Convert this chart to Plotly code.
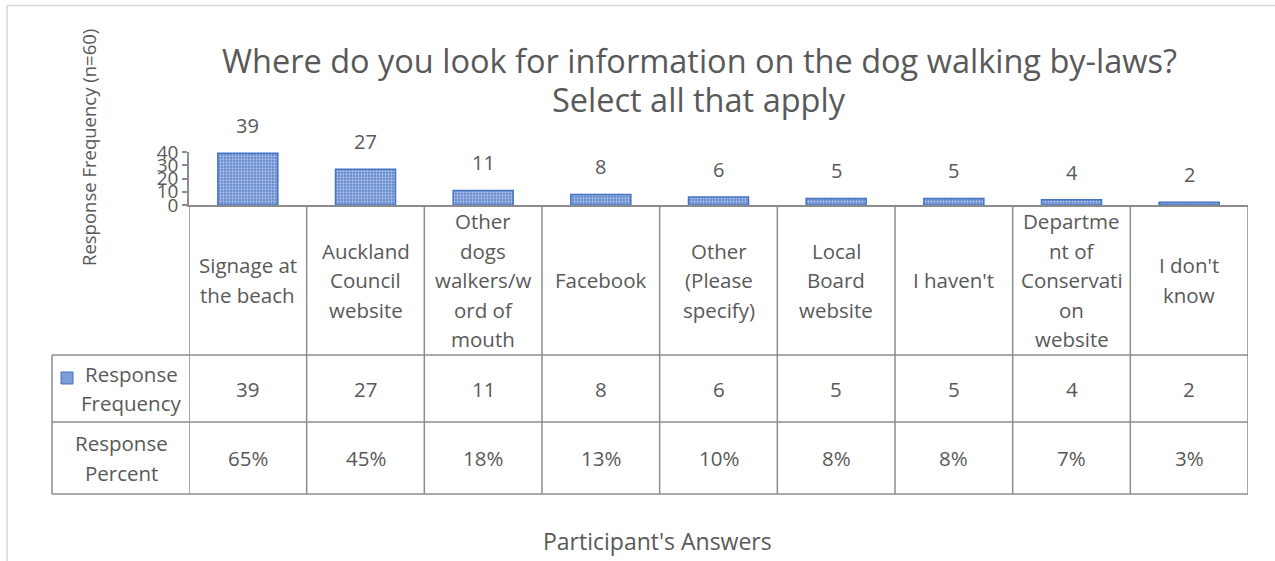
import plotly.graph_objects as go

# Survey results
categories = ["Signage at the beach", "Auckland Council website",
              "Other dogs walkers/word of mouth", "Facebook",
              "Other (Please specify)", "Local Board website", "I haven't",
              "Department of Conservation website", "I don't know"]
# wrapped labels as they appear in the data table
category_lines = [["Signage at", "the beach"],
                  ["Auckland", "Council", "website"],
                  ["Other", "dogs", "walkers/w", "ord of", "mouth"],
                  ["Facebook"],
                  ["Other", "(Please", "specify)"],
                  ["Local", "Board", "website"],
                  ["I haven't"],
                  ["Departme", "nt of", "Conservati", "on", "website"],
                  ["I don't", "know"]]
frequency = [39, 27, 11, 8, 6, 5, 5, 4, 2]
percent = ["65%", "45%", "18%", "13%", "10%", "8%", "8%", "7%", "3%"]
y_ticks = [0, 10, 20, 30, 40]

W, H = 1275, 561
PL, PR, PT, PB = 189, 1248, 152, 205   # plot area in pixels
TEXT = "#595959"
GRID = "#8c8c8c"
BLUE = "#4472C4"
FONT = "Open Sans"


def xp(px):
    return (px - PL) / (PR - PL)


def yp(py):
    return (PB - py) / (PB - PT)


n = len(categories)
idx = list(range(n))

fig = go.Figure()
fig.add_trace(go.Bar(
    x=idx, y=frequency, width=0.51,
    marker=dict(color="white", line=dict(color=BLUE, width=1.5),
                pattern=dict(shape=".", fgcolor="white", bgcolor="#5f86cd",
                             size=3, solidity=0.45)),
    hoverinfo="skip", showlegend=False,
))

ann = []
shapes = []


def text_ann(x, y, t, size, xref="paper", yref="paper", **kw):
    d = dict(x=x, y=y, xref=xref, yref=yref, text=t, showarrow=False,
             xanchor="center", yanchor="middle",
             font=dict(size=size, color=TEXT, family=FONT))
    d.update(kw)
    ann.append(d)


# value labels above bars
for i, v in enumerate(frequency):
    text_ann(i, v, str(v), 20, xref="x", yref="y", yanchor="bottom", yshift=12)

# data table geometry (pixels)
ROW_CAT = (205, 355)
ROW_FREQ = (355, 422)
ROW_PCT = (422, 494)
TABLE_LEFT = 52
LINE_H = 29.5
CELL_SIZE = 20.5


def add_lines_block(x, xref, lines, row, size=CELL_SIZE):
    mid = (row[0] + row[1]) / 2
    k = len(lines)
    for j, t in enumerate(lines):
        py = mid + (j - (k - 1) / 2) * LINE_H
        text_ann(x, yp(py), t, size, xref=xref)


for i in idx:
    add_lines_block(i, "x", category_lines[i], ROW_CAT)
    add_lines_block(i, "x", [str(frequency[i])], ROW_FREQ)
    add_lines_block(i, "x", [percent[i]], ROW_PCT)

# row headers
add_lines_block(xp(131), "paper", ["Response", "Frequency"], ROW_FREQ)
add_lines_block(xp(121), "paper", ["Response", "Percent"], ROW_PCT)

line = dict(color=GRID, width=1.5)
# vertical column separators
for i in range(n + 1):
    shapes.append(dict(type="line", xref="x", yref="paper",
                       x0=i - 0.5, x1=i - 0.5, y0=yp(ROW_CAT[0]), y1=yp(ROW_PCT[1]),
                       line=line))
# horizontal rules
for py in (ROW_FREQ[0], ROW_PCT[0], ROW_PCT[1]):
    shapes.append(dict(type="line", xref="paper", yref="paper",
                       x0=xp(TABLE_LEFT), x1=1, y0=yp(py), y1=yp(py), line=line))
shapes.append(dict(type="line", xref="paper", yref="paper",
                   x0=xp(TABLE_LEFT), x1=xp(TABLE_LEFT),
                   y0=yp(ROW_FREQ[0]), y1=yp(ROW_PCT[1]), line=line))
# legend key in the table
shapes.append(dict(type="rect", xref="paper", yref="paper",
                   x0=xp(61), x1=xp(73), y0=yp(372), y1=yp(384),
                   fillcolor="#7d9bd6", line=dict(color=BLUE, width=1)))
# chart-area border
shapes.append(dict(type="line", xref="paper", yref="paper",
                   x0=xp(7), x1=xp(W), y0=yp(5.5), y1=yp(5.5),
                   line=dict(color="#d9d9d9", width=1.5)))
shapes.append(dict(type="line", xref="paper", yref="paper",
                   x0=xp(7), x1=xp(7), y0=yp(5.5), y1=yp(H),
                   line=dict(color="#d9d9d9", width=1.5)))

# titles
text_ann(xp(699), yp(60), "Where do you look for information on the dog walking by-laws?", 32.5)
text_ann(xp(699), yp(99), "Select all that apply", 32.5)
text_ann(xp(88), yp(148), "Response Frequency (n=60)", 18.5, textangle=-90)
text_ann(xp(657), yp(541), "Participant's Answers", 23)

fig.update_layout(
    width=W, height=H,
    margin=dict(l=PL, r=W - PR, t=PT, b=H - PB, pad=0),
    plot_bgcolor="white", paper_bgcolor="white",
    xaxis=dict(range=[-0.5, n - 0.5], showticklabels=False, ticks="",
               showgrid=False, zeroline=False, showline=True,
               linecolor=GRID, linewidth=1.5, fixedrange=True),
    yaxis=dict(range=[0, 40], tickvals=y_ticks, ticks="outside", ticklen=5,
               tickcolor=GRID, tickwidth=1.5,
               showgrid=False, zeroline=False, showline=True,
               linecolor=GRID, linewidth=1.5,
               tickfont=dict(size=19, color=TEXT, family=FONT), fixedrange=True),
    annotations=ann, shapes=shapes,
    showlegend=False,
)

fig.write_html("out.html")
